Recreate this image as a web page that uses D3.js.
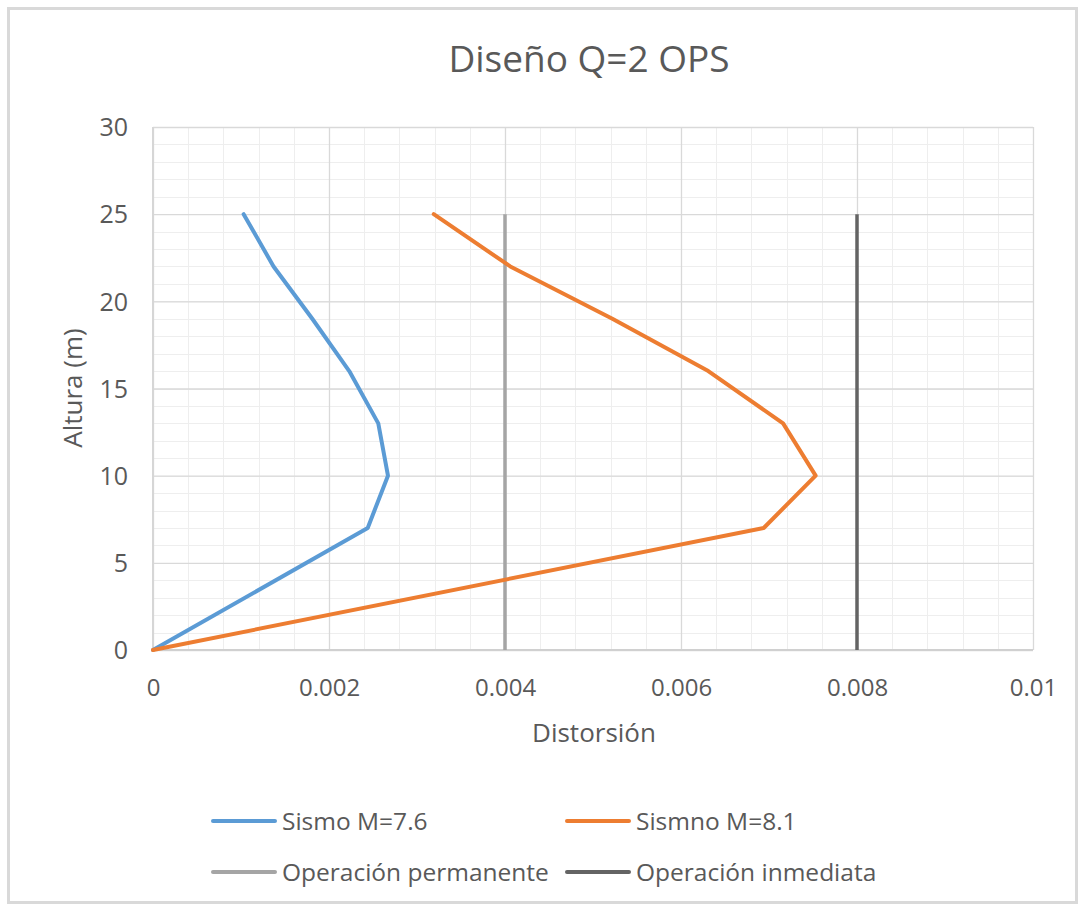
<!DOCTYPE html>
<html>
<head>
<meta charset="utf-8">
<script src="https://cdn.jsdelivr.net/npm/d3@7"></script>
<style>
  html, body { margin: 0; padding: 0; background: #fff; }
  svg { display: block; }
  text { font-family: "Open Sans", "Noto Sans", sans-serif; fill: #595959; }
</style>
</head>
<body>
<svg id="chart" width="1084" height="909"></svg>
<script>
// ---- data ----
const title = "Diseño Q=2 OPS";
const xTitle = "Distorsión";
const yTitle = "Altura (m)";
const heights = [0, 7, 10, 13, 16, 19, 22, 25];
const sismo76 = [0, 0.00244, 0.00267, 0.00256, 0.00223, 0.00181, 0.00137, 0.00103];
const sismo81 = [0, 0.00694, 0.00753, 0.00716, 0.00631, 0.00522, 0.00406, 0.00319];
const limitHeights = [0, 25];
const opPermanente = [0.004, 0.004];
const opInmediata = [0.008, 0.008];
const seriesNames = ["Sismo M=7.6", "Sismno M=8.1", "Operación permanente", "Operación inmediata"];
const seriesColors = ["#5b9bd5", "#ed7d31", "#a5a5a5", "#646464"];
const xTicks = [0, 0.002, 0.004, 0.006, 0.008, 0.01];
const xTickLabels = ["0", "0.002", "0.004", "0.006", "0.008", "0.01"];
const yTicks = [0, 5, 10, 15, 20, 25, 30];
const xMinorStep = 0.0004;
const yMinorStep = 1;

// ---- layout ----
const svg = d3.select("#chart");
const plot = { left: 153, right: 1033, top: 127, bottom: 650 };
const x = d3.scaleLinear().domain([0, 0.01]).range([plot.left, plot.right]);
const y = d3.scaleLinear().domain([0, 30]).range([plot.bottom, plot.top]);

// chart border
svg.append("rect").attr("x", 8.5).attr("y", 8.5).attr("width", 1068).attr("height", 894)
  .attr("fill", "#fff").attr("stroke", "#d9d9d9").attr("stroke-width", 3);

// minor gridlines
const xMinor = d3.range(0, 0.01 + 1e-9, xMinorStep);
const yMinor = d3.range(0, 30 + 1e-9, yMinorStep);
const g = svg.append("g");
g.selectAll("line.xminor").data(xMinor).join("line")
  .attr("x1", d => Math.round(x(d)) + 0.5).attr("x2", d => Math.round(x(d)) + 0.5)
  .attr("y1", plot.top).attr("y2", plot.bottom)
  .attr("stroke", "#eeeeee").attr("stroke-width", 1);
g.selectAll("line.yminor").data(yMinor).join("line")
  .attr("y1", d => Math.round(y(d)) + 0.5).attr("y2", d => Math.round(y(d)) + 0.5)
  .attr("x1", plot.left).attr("x2", plot.right)
  .attr("stroke", "#eeeeee").attr("stroke-width", 1);

// major gridlines via axes
const xGrid = d3.axisBottom(x).tickValues(xTicks).tickSize(-(plot.bottom - plot.top)).tickFormat("");
svg.append("g").attr("transform", `translate(0,${plot.bottom})`).call(xGrid)
  .call(s => s.select(".domain").remove())
  .call(s => s.selectAll("line").attr("stroke", "#d9d9d9").attr("stroke-width", 1.3));
const yGrid = d3.axisLeft(y).tickValues(yTicks).tickSize(-(plot.right - plot.left)).tickFormat("");
svg.append("g").attr("transform", `translate(${plot.left},0)`).call(yGrid)
  .call(s => s.select(".domain").remove())
  .call(s => s.selectAll("line").attr("stroke", "#d9d9d9").attr("stroke-width", 1.3));

// axis lines
svg.append("line").attr("x1", plot.left).attr("x2", plot.right).attr("y1", plot.bottom).attr("y2", plot.bottom)
  .attr("stroke", "#d0d0d0").attr("stroke-width", 2);
svg.append("line").attr("x1", plot.left).attr("x2", plot.left).attr("y1", plot.top).attr("y2", plot.bottom)
  .attr("stroke", "#d6d6d6").attr("stroke-width", 2);

// tick labels
const xAxis = d3.axisBottom(x).tickValues(xTicks).tickSize(0).tickPadding(0)
  .tickFormat((d, i) => xTickLabels[i]);
svg.append("g").attr("transform", `translate(0,${plot.bottom})`).call(xAxis)
  .call(s => s.select(".domain").remove())
  .call(s => s.selectAll("text").attr("y", 38).attr("dy", "0.35em")
    .style("font-size", "24px").style("font-family", "'Open Sans', sans-serif").attr("fill", "#595959"));
const yAxis = d3.axisLeft(y).tickValues(yTicks).tickSize(0).tickPadding(0);
svg.append("g").attr("transform", `translate(${plot.left},0)`).call(yAxis)
  .call(s => s.select(".domain").remove())
  .call(s => s.selectAll("text").attr("x", -25).attr("dy", "0.35em")
    .style("font-size", "25px").style("font-family", "'Open Sans', sans-serif").attr("fill", "#595959"));

// limit lines
const line = d3.line().x(d => x(d[0])).y(d => y(d[1]));
[[opPermanente, seriesColors[2]], [opInmediata, seriesColors[3]]].forEach(([vals, col]) => {
  svg.append("path").datum(vals.map((v, i) => [v, limitHeights[i]]))
    .attr("d", line).attr("fill", "none").attr("stroke", col).attr("stroke-width", 3.5);
});

// series lines
[[sismo76, seriesColors[0]], [sismo81, seriesColors[1]]].forEach(([vals, col]) => {
  svg.append("path").datum(vals.map((v, i) => [v, heights[i]]))
    .attr("d", line).attr("fill", "none").attr("stroke", col).attr("stroke-width", 4)
    .attr("stroke-linejoin", "round").attr("stroke-linecap", "round");
});

// titles
svg.append("text").attr("x", 589).attr("y", 59).attr("dy", "0.35em").attr("text-anchor", "middle")
  .style("font-size", "37px").text(title);
svg.append("text").attr("x", 594).attr("y", 733).attr("dy", "0.35em").attr("text-anchor", "middle")
  .style("font-size", "26px").text(xTitle);
svg.append("text").attr("transform", "translate(73,388) rotate(-90)").attr("dy", "0.35em")
  .attr("text-anchor", "middle").style("font-size", "26px").text(yTitle);

// legend
const legendPos = [[213, 821], [567, 821], [213, 872], [567, 872]];
const lg = svg.append("g").selectAll("g").data(seriesNames).join("g")
  .attr("transform", (d, i) => `translate(${legendPos[i][0]},${legendPos[i][1]})`);
lg.append("line").attr("x1", 0).attr("x2", 62).attr("y1", 0).attr("y2", 0)
  .attr("stroke", (d, i) => seriesColors[i]).attr("stroke-width", 4).attr("stroke-linecap", "round");
lg.append("text").attr("x", 69).attr("dy", "0.35em").style("font-size", "24.5px").text(d => d);
</script>
</body>
</html>
